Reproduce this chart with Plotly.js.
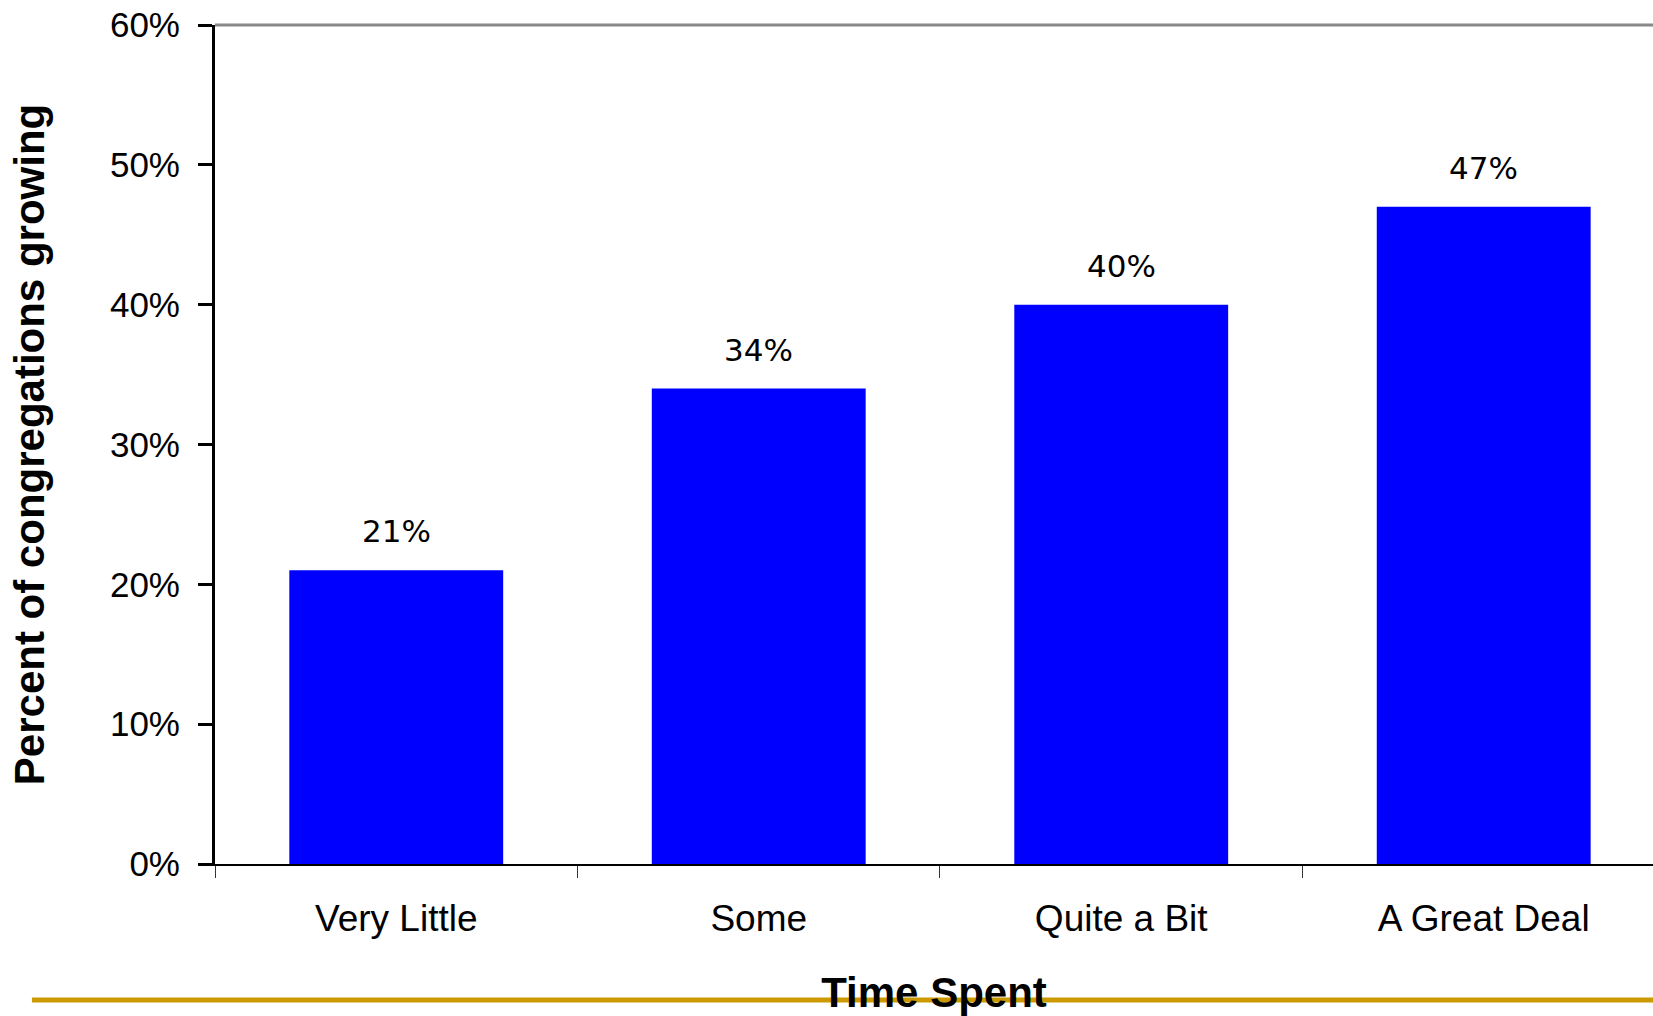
<!DOCTYPE html>
<html>
<head>
<meta charset="utf-8">
<script src="https://cdn.plot.ly/plotly-3.0.1.min.js"></script>
<style>
html, body { margin: 0; padding: 0; background: #ffffff; overflow: hidden; }
#chart { width: 1653px; height: 1016px; }
</style>
</head>
<body>
<div id="chart"></div>
<script>
const categories = ["Very Little", "Some", "Quite a Bit", "A Great Deal"];
const growingPct = [21, 34, 40, 47];
const yTickValues = [0, 10, 20, 30, 40, 50, 60];
const yTickLabels = ["0%", "10%", "20%", "30%", "40%", "50%", "60%"];
const xAxisTitle = "Time Spent";
const yAxisTitle = "Percent of congregations growing";

const trace = {
  type: "bar",
  x: categories,
  y: growingPct,
  marker: { color: "#0000FF", line: { width: 0 } },
  hoverinfo: "x+y"
};

const labelAnnotations = categories.map((c, i) => ({
  x: c,
  y: growingPct[i],
  xref: "x",
  yref: "y",
  text: growingPct[i] + "%",
  showarrow: false,
  xanchor: "center",
  yanchor: "middle",
  yshift: 39,
  font: { family: "DejaVu Sans", size: 31, color: "#000000" }
}));

const layout = {
  width: 1653,
  height: 1016,
  margin: { l: 215, r: 0, t: 25, b: 152 },
  paper_bgcolor: "#ffffff",
  plot_bgcolor: "#ffffff",
  showlegend: false,
  bargap: 0.41,
  xaxis: {
    type: "category",
    range: [-0.5, 3.467],
    showgrid: false,
    zeroline: false,
    showline: true,
    linecolor: "#000000",
    linewidth: 2,
    ticks: "outside",
    tickson: "boundaries",
    ticklen: 12,
    tickwidth: 1,
    tickcolor: "#333333",
    ticklabelstandoff: 21,
    tickfont: { family: "Liberation Sans, Arial", size: 37, color: "#000000" },
    title: {
      text: xAxisTitle,
      font: { family: "Liberation Sans, Arial", size: 42, color: "#000000", weight: "bold" },
      standoff: 40
    },
    automargin: false,
    fixedrange: true
  },
  yaxis: {
    range: [0, 60],
    tickvals: yTickValues,
    ticktext: yTickLabels,
    showgrid: false,
    zeroline: false,
    showline: true,
    linecolor: "#000000",
    linewidth: 3,
    ticks: "outside",
    ticklen: 14,
    tickwidth: 3,
    tickcolor: "#000000",
    ticklabelstandoff: 11,
    tickfont: { family: "Liberation Sans, Arial", size: 35, color: "#000000" },
    title: {
      text: yAxisTitle,
      font: { family: "Liberation Sans, Arial", size: 42, color: "#000000", weight: "bold" },
      standoff: 53
    },
    automargin: false,
    fixedrange: true
  },
  shapes: [
    {
      type: "line", xref: "paper", yref: "paper",
      x0: 0, x1: 1, y0: 1, y1: 1,
      line: { color: "#888888", width: 3 },
      layer: "above"
    },
    {
      type: "line", xref: "paper", yref: "paper",
      x0: -0.1273, x1: 1.0, y0: -0.1621, y1: -0.1621,
      line: { color: "#CC9900", width: 5 },
      layer: "below"
    }
  ],
  annotations: labelAnnotations
};

Plotly.newPlot("chart", [trace], layout, { displayModeBar: false, staticPlot: false });
</script>
</body>
</html>
